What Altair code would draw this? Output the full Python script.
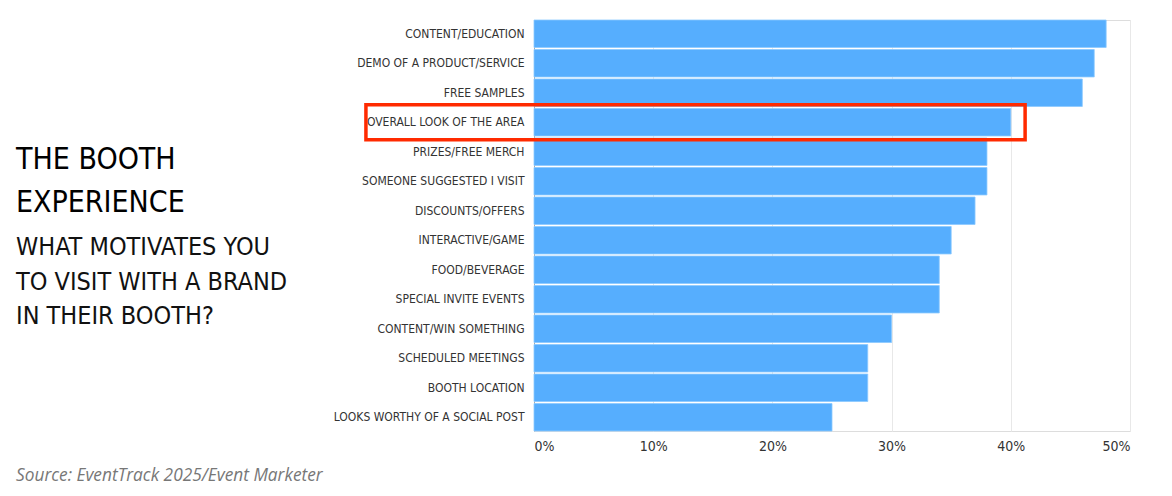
import altair as alt
import pandas as pd

categories = [
    "CONTENT/EDUCATION", "DEMO OF A PRODUCT/SERVICE", "FREE SAMPLES",
    "OVERALL LOOK OF THE AREA", "PRIZES/FREE MERCH", "SOMEONE SUGGESTED I VISIT",
    "DISCOUNTS/OFFERS", "INTERACTIVE/GAME", "FOOD/BEVERAGE", "SPECIAL INVITE EVENTS",
    "CONTENT/WIN SOMETHING", "SCHEDULED MEETINGS", "BOOTH LOCATION",
    "LOOKS WORTHY OF A SOCIAL POST",
]
values = [48, 47, 46, 40, 38, 38, 37, 35, 34, 34, 30, 28, 28, 25]
tick_values = [0, 10, 20, 30, 40, 50]

highlight_category = "OVERALL LOOK OF THE AREA"
highlight_start = -14.1
highlight_end = 41.2

title_lines = ["THE BOOTH", "EXPERIENCE"]
subtitle_lines = ["WHAT MOTIVATES YOU", "TO VISIT WITH A BRAND", "IN THEIR BOOTH?"]
source_text = "Source: EventTrack 2025/Event Marketer"

NARROW = "DejaVu Sans Condensed, sans-serif"

df = pd.DataFrame({"category": categories, "value": values})
hl = pd.DataFrame({"category": [highlight_category], "start": [highlight_start], "end": [highlight_end]})

W, H = 596, 411

x_scale = alt.Scale(domain=[0, 50], nice=False, clamp=False)
y_scale = alt.Scale(domain=categories, paddingInner=0.07, paddingOuter=0.0)

bars = alt.Chart(df).mark_bar(color="#56aefe", stroke="#8cc9ff", strokeWidth=0.8).encode(
    x=alt.X("value:Q", scale=x_scale,
            axis=alt.Axis(values=tick_values, labelExpr="datum.value + '%'", title=None,
                          grid=True, gridColor="#e8e8e8", domain=False, ticks=False,
                          labelFont=NARROW, labelFontSize=14, labelColor="#333333",
                          labelPadding=8)),
    y=alt.Y("category:N", scale=y_scale, sort=categories,
            axis=alt.Axis(title=None, ticks=False, domain=True, domainColor="#aaaaaa",
                          labelFont=NARROW, labelFontSize=12, labelColor="#333333",
                          labelPadding=10, labelLimit=300)),
)

box = alt.Chart(hl).mark_bar(filled=False, fill=None, stroke="#ff2a00", strokeWidth=3.5, size=35, clip=False).encode(
    x=alt.X("start:Q", scale=x_scale),
    x2="end:Q",
    y=alt.Y("category:N", scale=y_scale, sort=categories),
)

def text_layer(txt, x, y, size, color="#111111", style="normal", font=NARROW, weight="normal"):
    return alt.Chart(pd.DataFrame({"t": [txt]})).mark_text(
        align="left", baseline="alphabetic", font=font, fontSize=size, color=color,
        fontStyle=style, fontWeight=weight,
    ).encode(text="t:N", x=alt.value(x), y=alt.value(y))

texts = []
for i, line in enumerate(title_lines):
    texts.append(text_layer(line, -518, 149 + i * 43, 30, color="#000000"))
for i, line in enumerate(subtitle_lines):
    texts.append(text_layer(line, -518, 235 + i * 34.5, 25, color="#111111"))
texts.append(text_layer(source_text, -518, 461, 17.3, color="#777777", style="italic", font="Open Sans"))

chart = alt.layer(bars, box, *texts).properties(
    width=W, height=H,
    autosize=alt.AutoSizeParams(type="none"),
    padding={"left": 526, "top": 12, "right": 20, "bottom": 60},
).configure_view(stroke=None).configure(background="white")

chart.save("out.html", embed_options={"renderer": "svg", "actions": False})
